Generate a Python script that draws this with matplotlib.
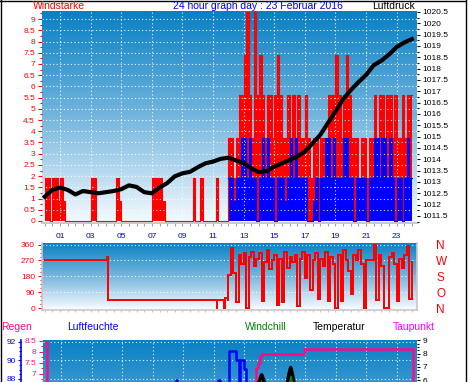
import numpy as np
import matplotlib
matplotlib.use("Agg")
import matplotlib.pyplot as plt
from matplotlib.colors import LinearSegmentedColormap
from matplotlib.ticker import MultipleLocator, FormatStrFormatter, FixedLocator
from matplotlib.lines import Line2D

plt.rcParams['font.family'] = ['Liberation Sans', 'DejaVu Sans']

# wind strength (km/h), one value per 10 minutes from 00:00
wind_gust = [1.9, 1.9, 0, 1.9, 1.9, 0.9, 1.9, 0.9, 0, 0, 0, 0,
             0, 0, 0, 0, 0, 0, 1.9, 1.9, 0, 0, 0, 0,
             0, 0, 0, 0, 1.9, 0.9, 0, 0, 0, 0, 0, 0,
             0, 0, 0, 0, 0, 0, 1.9, 1.9, 1.9, 1.9, 0.9, 0,
             0, 0, 0, 0, 0, 0, 0, 0, 0, 0, 1.9, 0,
             0, 1.9, 0, 0, 0, 0, 0, 1.9, 0, 0, 0, 0,
             3.7, 3.7, 1.9, 3.7, 5.6, 5.6, 7.4, 9.3, 5.6, 3.7, 9.3, 5.6,
             7.4, 5.6, 3.7, 5.6, 5.6, 3.7, 5.6, 7.4, 5.6, 3.7, 3.7, 5.6,
             3.7, 5.6, 3.7, 5.6, 3.7, 3.7, 5.6, 3.7, 1.9, 3.7, 3.7, 1.9,
             3.7, 3.7, 3.7, 5.6, 5.6, 5.6, 7.4, 5.6, 3.7, 5.6, 7.4, 5.6,
             3.7, 3.7, 3.7, 1.9, 3.7, 3.7, 1.9, 3.7, 3.7, 5.6, 3.7, 5.6,
             5.6, 3.7, 5.6, 5.6, 3.7, 5.6, 3.7, 3.7, 5.6, 3.7, 5.6, 5.6]
wind_avg = [0, 0, 0, 0, 0, 0, 0, 0, 0, 0, 0, 0,
            0, 0, 0, 0, 0, 0, 0, 0, 0, 0, 0, 0,
            0, 0, 0, 0, 0, 0, 0, 0, 0, 0, 0, 0,
            0, 0, 0, 0, 0, 0, 0, 0, 0, 0, 0, 0,
            0, 0, 0, 0, 0, 0, 0, 0, 0, 0, 0, 0,
            0, 0, 0, 0, 0, 0, 0, 0, 0, 0, 0, 0,
            1.9, 1.9, 0.9, 1.9, 1.9, 3.7, 3.7, 1.9, 3.7, 1.9, 1.9, 0,
            1.9, 3.7, 1.9, 3.7, 1.9, 1.9, 0, 1.9, 1.9, 1.9, 0.9, 1.9,
            3.7, 1.9, 3.7, 1.9, 1.9, 1.9, 1.9, 0, 0, 0.9, 1.9, 0,
            1.9, 1.9, 3.7, 3.7, 1.9, 3.7, 1.9, 1.9, 1.9, 3.7, 3.7, 1.9,
            1.9, 0, 1.9, 1.9, 1.9, 1.9, 0, 1.9, 1.9, 3.7, 3.7, 1.9,
            3.7, 3.7, 1.9, 3.7, 1.9, 0, 1.9, 1.9, 0, 1.9, 3.7, 1.9]

# air pressure (hPa), every half hour from 00:00 to 24:00
pressure = [1012.35, 1012.65, 1012.75, 1012.65, 1012.45, 1012.6, 1012.55, 1012.5, 1012.55, 1012.6,
            1012.68, 1012.85, 1012.78, 1012.55, 1012.5, 1012.75, 1012.95, 1013.25, 1013.38, 1013.45,
            1013.65, 1013.82, 1013.9, 1014.02, 1014.07, 1013.95, 1013.82, 1013.6, 1013.43, 1013.48,
            1013.67, 1013.82, 1013.97, 1014.12, 1014.34, 1014.7, 1015.07, 1015.59, 1016.1, 1016.65,
            1017.05, 1017.4, 1017.72, 1018.15, 1018.35, 1018.62, 1018.95, 1019.15, 1019.3]

# wind direction: calm morning as change points, then every 10 minutes from 12:00
dir_calm_hours = [0.0, 4.08, 4.12, 4.16, 11.26, 11.29, 11.72, 11.76, 11.98]
dir_calm_deg = [270, 290, 165, 45, 0, 45, 0, 60, 45]
dir_busy_deg = [190, 340, 200, 36, 300, 250, 310, 0, 290, 320, 240, 280,
                310, 38, 260, 330, 220, 270, 300, 20, 280, 36, 320, 230,
                290, 260, 300, 10, 280, 320, 170, 300, 100, 270, 310, 50,
                280, 240, 320, 40, 290, 250, 0, 300, 40, 330, 270, 210,
                80, 300, 270, 330, 250, 0, 270, 270, 270, 360, 45, 300,
                240, 0, 0, 290, 310, 250, 40, 280, 230, 300, 350, 50]
dir_last_deg = 260

# lower panel (only the top of it is visible)
rain_hours = [0.0, 0.08, 13.75, 13.8, 13.92, 14.03, 14.14, 16.95, 24.07]
rain_mm = [8.45, 0.0, 6.94, 7.24, 7.5, 7.8, 7.88, 8.12, 0.0]
hum_hours = [0.0, 8.55, 8.62, 11.32, 11.4, 11.98, 12.5, 12.65, 12.75, 13.0, 13.15, 24.07]
hum_pct = [86.0, 87.9, 86.0, 87.9, 86.0, 91.05, 90.1, 86.5, 90.1, 89.05, 86.0, 86.0]
temp_hours = [0.0, 13.9, 14.05, 14.15, 14.25, 14.4, 15.8, 15.95, 16.05, 16.15, 16.3, 24.07]
temp_c = [4.8, 5.6, 6.1, 6.4, 6.1, 5.5, 5.6, 6.5, 6.95, 6.5, 5.6, 4.5]
chill_hours = [0.0, 15.98, 16.1, 16.2, 24.07]
chill_c = [3.0, 5.6, 6.3, 5.6, 3.0]

hour_ticks = np.arange(1, 24, 2)
hour_labels = ['%02d' % h for h in hour_ticks]
hum_ticks = [88, 90, 92]
rain_ticks = [7, 7.5, 8, 8.5]
temp_ticks = [6, 7, 8, 9]

W, H = 470, 382
PINK = '#ff0a85'
GREY = '#c8c8c8'
sky = LinearSegmentedColormap.from_list('sky', ['#f6fbff', '#74b6de', '#0880c4'])
XLIM = (-0.18, 24.33)
FS = 6


def box(left, top, right, bottom):
    return [left / W, 1 - bottom / H, (right - left) / W, (bottom - top) / H]


fig = plt.figure(figsize=(4.7, 3.82), dpi=100)


def panel(rect):
    bg = fig.add_axes(rect)
    bg.imshow(np.linspace(1, 0, 256).reshape(-1, 1), cmap=sky, aspect='auto',
              extent=[0, 1, 0, 1], interpolation='bilinear')
    bg.set_axis_off()
    ax = fig.add_axes(rect)
    ax.patch.set_visible(False)
    ax.set_xlim(*XLIM)
    for s in ax.spines.values():
        s.set_visible(False)
    return ax


dots = dict(color='white', ls=(0, (1, 2.2)), lw=0.8, alpha=0.9)

# ---- wind + pressure ----
ax_w = panel(box(42, 11, 417, 223))
t10 = np.arange(len(wind_gust) + 1) / 6
gust = np.append(wind_gust, wind_gust[-1])
avg = np.append(wind_avg, wind_avg[-1])
ax_w.fill_between(t10, gust, step='post', color='red', lw=0)
ax_w.step(t10, gust, where='post', color='red', lw=0.8)
first = np.flatnonzero(avg)[0]
ax_w.fill_between(t10, avg, step='post', color='blue', lw=0)
ax_w.step(t10[first:], avg[first:], where='post', color='blue', lw=0.8)
ax_w.set_ylim(-0.09, 9.36)
ax_w.yaxis.set_major_locator(MultipleLocator(0.5))
ax_w.yaxis.set_minor_locator(MultipleLocator(0.25))
ax_w.yaxis.set_major_formatter(FormatStrFormatter('%g'))
ax_w.tick_params(axis='y', which='both', colors='red', labelsize=FS, length=3, width=0.8, pad=2)
ax_w.tick_params(axis='y', which='minor', length=1.6)
ax_w.set_xticks(hour_ticks)
ax_w.set_xticklabels(hour_labels)
ax_w.xaxis.set_minor_locator(MultipleLocator(0.5))
ax_w.tick_params(axis='x', which='both', color='#a0a0a0', labelcolor='blue', labelsize=FS,
                 length=2, width=0.8, pad=5)
ax_w.spines['bottom'].set_visible(True)
ax_w.spines['bottom'].set_color(GREY)
ax_w.spines['bottom'].set_linewidth(1.4)
ax_w.grid(True, which='major', **dots)

ax_p = ax_w.twinx()
for s in ax_p.spines.values():
    s.set_visible(False)
ax_p.plot(np.arange(len(pressure)) / 2, pressure, color='black', lw=3.0,
          solid_joinstyle='round')
ax_p.set_ylim(1011.19, 1020.54)
ax_p.yaxis.set_major_locator(MultipleLocator(0.5))
ax_p.yaxis.set_minor_locator(MultipleLocator(0.25))
ax_p.yaxis.set_major_formatter(FormatStrFormatter('%g'))
ax_p.tick_params(axis='y', which='both', colors='black', labelsize=FS, length=2.2, width=0.8, pad=1.5)
ax_p.tick_params(axis='y', which='minor', length=1.4)
ax_p.set_xlim(*XLIM)

# ---- wind direction ----
ax_d = panel(box(42, 242.5, 417, 309.5))
dir_hours = dir_calm_hours + list(12 + np.arange(len(dir_busy_deg)) / 6) + [24.0]
dir_deg = dir_calm_deg + dir_busy_deg + [dir_last_deg]
ax_d.step(dir_hours, dir_deg, where='post', color='#ff0000', lw=1.3, antialiased=False)
ax_d.set_ylim(-8, 372)
ax_d.set_yticks([0, 90, 180, 270, 360])
ax_d.yaxis.set_minor_locator(MultipleLocator(22.5))
ax_d.tick_params(axis='y', which='both', colors='red', labelsize=FS, length=3, width=0.8, pad=2)
ax_d.tick_params(axis='y', which='minor', length=1.6)
ax_d.set_xticks(hour_ticks)
ax_d.set_xticklabels([])
ax_d.xaxis.set_minor_locator(MultipleLocator(0.5))
ax_d.tick_params(axis='x', which='both', color=GREY, length=1.5, width=0.8)
for side in ['left', 'right', 'bottom']:
    ax_d.spines[side].set_visible(True)
    ax_d.spines[side].set_color(GREY)
    ax_d.spines[side].set_linewidth(1.2)
ax_d.grid(True, axis='y', **dots)

ax_c = ax_d.twinx()
for s in ax_c.spines.values():
    s.set_visible(False)
ax_c.set_ylim(-8, 372)
ax_c.set_yticks([360, 270, 180, 90, 0])
ax_c.set_yticklabels(['N', 'W', 'S', 'O', 'N'])
ax_c.tick_params(axis='y', length=0, pad=14, labelsize=8.5, labelcolor='red')
ax_c.set_xlim(*XLIM)

# ---- humidity / rain / temperature ----
ax_h = panel(box(43, 339.5, 417, 551.5))
ax_h.step(hum_hours, hum_pct, where='post', color='blue', lw=1.8)
ax_h.set_ylim(69.35, 92.27)
ax_h.yaxis.set_major_locator(FixedLocator(hum_ticks))
ax_h.yaxis.set_minor_locator(MultipleLocator(0.5))
ax_h.spines['left'].set_visible(True)
ax_h.spines['left'].set_position(('outward', 16))
ax_h.spines['left'].set_color('blue')
ax_h.spines['left'].set_linewidth(1.2)
ax_h.tick_params(axis='y', which='both', colors='blue', labelsize=FS, length=2.5, width=0.8, pad=0.8)
ax_h.tick_params(axis='y', which='minor', length=1.5)
ax_h.set_xticks(hour_ticks)
ax_h.set_xticklabels([])
ax_h.tick_params(axis='x', length=0)
ax_h.grid(True, which='major', **dots)

ax_r = ax_h.twinx()
for s in ax_r.spines.values():
    s.set_visible(False)
ax_r.yaxis.tick_left()
ax_r.step(rain_hours, rain_mm, where='post', color=PINK, lw=1.8)
ax_r.set_ylim(-1.09, 8.55)
ax_r.yaxis.set_major_locator(FixedLocator(rain_ticks))
ax_r.yaxis.set_minor_locator(MultipleLocator(0.25))
ax_r.yaxis.set_major_formatter(FormatStrFormatter('%g'))
ax_r.tick_params(axis='y', which='both', colors=PINK, labelsize=FS, length=3, width=0.8, pad=2)
ax_r.tick_params(axis='y', which='minor', length=1.6)
ax_r.set_xlim(*XLIM)

ax_t = ax_h.twinx()
for s in ax_t.spines.values():
    s.set_visible(False)
ax_t.plot(temp_hours, temp_c, color='black', lw=2.6)
ax_t.plot(chill_hours, chill_c, color='green', lw=0.8)
ax_t.set_ylim(-6.88, 9.06)
ax_t.yaxis.set_major_locator(FixedLocator(temp_ticks))
ax_t.yaxis.set_minor_locator(MultipleLocator(0.25))
ax_t.tick_params(axis='y', which='both', colors='black', labelsize=FS, length=2.2, width=0.8, pad=1.5)
ax_t.tick_params(axis='y', which='minor', length=1.4)
ax_t.set_xlim(*XLIM)

# ---- headings ----
def head(x, y, s, color, ha='left'):
    fig.text(x / W, 1 - y / H, s, color=color, fontsize=7.5, ha=ha, va='baseline')


head(33, 9.3, 'Windstärke', 'red')
head(257.5, 9.3, '24 hour graph day : 23 Februar 2016', 'blue', ha='center')
head(415, 9.3, 'Luftdruck', 'black', ha='right')
head(1, 330.5, 'Regen', PINK)
head(67, 330.5, 'Luftfeuchte', 'blue')
head(245, 330.5, 'Windchill', 'green')
head(313, 330.5, 'Temperatur', 'black')
head(393, 330.5, 'Taupunkt', '#ff00ff')

# outer frame
for xs, ys in [([0.5 / W, 0.5 / W], [0, 1]),
               ([465.5 / W, 465.5 / W], [0, 1]),
               ([0, 465.5 / W], [1 - 0.5 / H, 1 - 0.5 / H])]:
    fig.add_artist(Line2D(xs, ys, transform=fig.transFigure, color='black', lw=1))

fig.savefig('out.png', dpi=100)
